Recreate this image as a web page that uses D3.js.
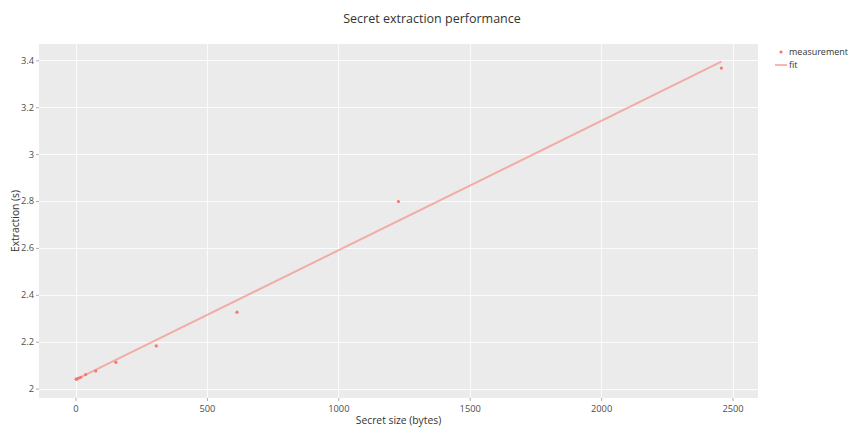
<!DOCTYPE html>
<html>
<head>
<meta charset="utf-8">
<script src="https://cdn.jsdelivr.net/npm/d3@7"></script>
<style>
  html, body { margin: 0; padding: 0; background: #fff; }
  svg { display: block; font-family: "Open Sans", "Noto Sans", sans-serif; }
</style>
</head>
<body>
<svg id="chart" width="849" height="428"></svg>
<script>
// Measured extraction time per secret size
const secretSizes = [2.4, 4.8, 9.6, 19.2, 38.4, 76.8, 153.6, 307.2, 614.4, 1228.8, 2457.6];
const extractionTimes = [2.040, 2.041, 2.044, 2.048, 2.060, 2.075, 2.112, 2.182, 2.326, 2.798, 3.367];

// Linear fit endpoints
const fitSizes = [2.4, 2457.6];
const fitTimes = [2.039, 3.394];

const xTicks = [0, 500, 1000, 1500, 2000, 2500];
const yTicks = [2, 2.2, 2.4, 2.6, 2.8, 3, 3.2, 3.4];

const svg = d3.select("#chart");
const panel = { left: 39, top: 44, right: 758, bottom: 398 };

const x = d3.scaleLinear().domain([-139, 2597]).range([panel.left, panel.right]);
const y = d3.scaleLinear().domain([1.9599, 3.4696]).range([panel.bottom, panel.top]);

// Panel background
svg.append("rect")
  .attr("x", panel.left).attr("y", panel.top)
  .attr("width", panel.right - panel.left).attr("height", panel.bottom - panel.top)
  .attr("fill", "#EBEBEB");

// Grid lines
svg.append("g").selectAll("line").data(xTicks).join("line")
  .attr("x1", d => Math.round(x(d)) + 0.5).attr("x2", d => Math.round(x(d)) + 0.5)
  .attr("y1", panel.top).attr("y2", panel.bottom)
  .attr("stroke", "#fff").attr("stroke-opacity", 0.8).attr("stroke-width", 1);
svg.append("g").selectAll("line").data(yTicks).join("line")
  .attr("x1", panel.left).attr("x2", panel.right)
  .attr("y1", d => Math.round(y(d)) + 0.5).attr("y2", d => Math.round(y(d)) + 0.5)
  .attr("stroke", "#fff").attr("stroke-opacity", 0.8).attr("stroke-width", 1);

// Axes
const fmt = d => String(d);
const xAxis = svg.append("g")
  .attr("transform", `translate(0,${panel.bottom})`)
  .call(d3.axisBottom(x).tickValues(xTicks).tickFormat(fmt).tickSize(3).tickPadding(4));
const yAxis = svg.append("g")
  .attr("transform", `translate(${panel.left},0)`)
  .call(d3.axisLeft(y).tickValues(yTicks).tickFormat(fmt).tickSize(3).tickPadding(2));
[xAxis, yAxis].forEach(g => {
  g.select(".domain").remove();
  g.selectAll(".tick line").attr("stroke", "#999").attr("stroke-opacity", 0.8);
  g.selectAll(".tick text")
    .attr("fill", "#4D4D4D")
    .style("font-size", "9.3px")
    .style("font-family", "'Open Sans', sans-serif");
});

// Fit line
svg.append("path")
  .datum(fitSizes.map((s, i) => [s, fitTimes[i]]))
  .attr("d", d3.line().x(d => x(d[0])).y(d => y(d[1])))
  .attr("fill", "none")
  .attr("stroke", "#F8766D")
  .attr("stroke-opacity", 0.55)
  .attr("stroke-width", 2);

// Measurement points
svg.append("g").selectAll("circle")
  .data(secretSizes.map((s, i) => [s, extractionTimes[i]]))
  .join("circle")
  .attr("cx", d => x(d[0]))
  .attr("cy", d => y(d[1]))
  .attr("r", 1.6)
  .attr("fill", "#F8766D");

// Title
svg.append("text")
  .attr("x", 432).attr("y", 23)
  .attr("text-anchor", "middle")
  .attr("fill", "#333")
  .style("font-size", "12.5px")
  .text("Secret extraction performance");

// Axis titles
svg.append("text")
  .attr("x", (panel.left + panel.right) / 2).attr("y", 424)
  .attr("text-anchor", "middle")
  .attr("fill", "#333")
  .style("font-size", "10.3px")
  .text("Secret size (bytes)");
svg.append("text")
  .attr("transform", `translate(19,${(panel.top + panel.bottom) / 2}) rotate(-90)`)
  .attr("text-anchor", "middle")
  .attr("fill", "#333")
  .style("font-size", "10.3px")
  .text("Extraction (s)");

// Legend
const legend = svg.append("g").attr("transform", "translate(775,52)");
legend.append("circle").attr("cx", 6).attr("cy", 0).attr("r", 1.6).attr("fill", "#F8766D");
legend.append("text").attr("x", 14).attr("y", 3.3).attr("fill", "#333")
  .style("font-size", "9px").text("measurement");
legend.append("line").attr("x1", 0).attr("x2", 12).attr("y1", 13).attr("y2", 13)
  .attr("stroke", "#F8766D").attr("stroke-opacity", 0.55).attr("stroke-width", 2);
legend.append("text").attr("x", 14).attr("y", 16.3).attr("fill", "#333")
  .style("font-size", "9px").text("fit");
</script>
</body>
</html>
